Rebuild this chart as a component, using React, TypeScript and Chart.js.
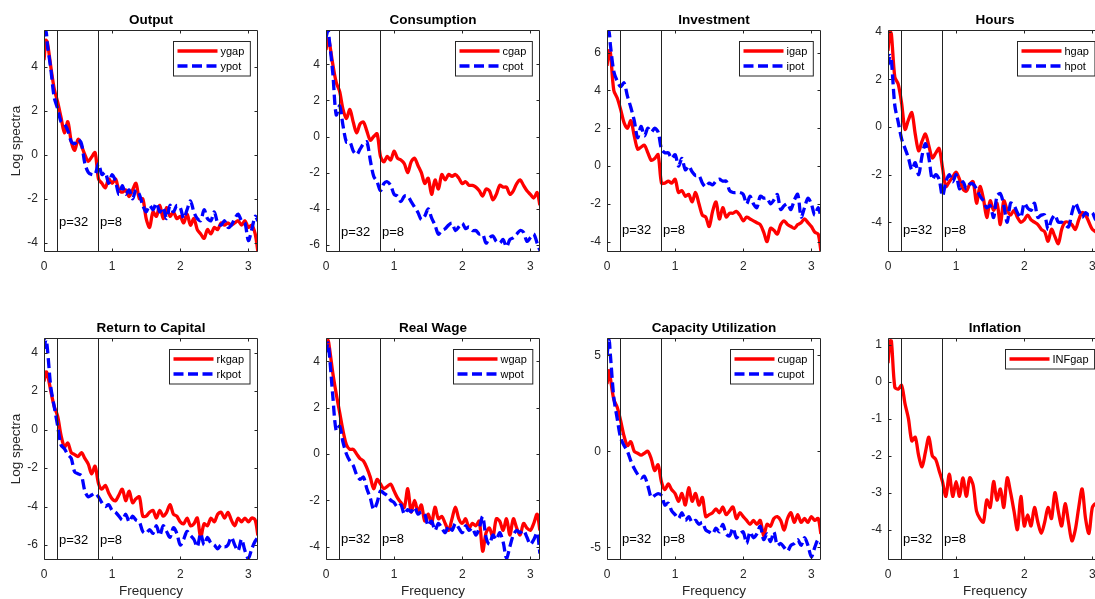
import React, { useEffect, useRef } from 'react';
import { Chart, registerables } from 'chart.js';
Chart.register(...registerables);

// ---------- data ----------
const freq = [
  0, 0.03, 0.05, 0.10, 0.15, 0.20, 0.25, 0.30, 0.35, 0.40, 0.45,
  0.50, 0.55, 0.60, 0.65, 0.70, 0.75, 0.80, 0.85, 0.90, 0.95,
  1.00, 1.05, 1.10, 1.15, 1.20, 1.25, 1.30, 1.35, 1.40, 1.45,
  1.50, 1.55, 1.60, 1.65, 1.70, 1.75, 1.80, 1.85, 1.90, 1.95,
  2.00, 2.05, 2.10, 2.15, 2.20, 2.25, 2.30, 2.35, 2.40, 2.45,
  2.50, 2.55, 2.60, 2.65, 2.70, 2.75, 2.80, 2.85, 2.90, 2.95,
  3.00, 3.05, 3.10, 3.14,
];

const ygap = [
  4.3, 5.2, 5.1, 4.0, 3.0, 2.4, 1.7, 1.0, 1.5, 0.6, 0.2,
  0.7, 0.4, 0.0, -0.3, -0.1, 0.1, -1.1, -1.3, -1.5, -1.1,
  -1.3, -1.1, -1.6, -1.7, -1.6, -1.9, -1.6, -1.3, -2.0, -2.0,
  -2.9, -3.3, -2.6, -2.8, -2.3, -2.9, -2.4, -2.8, -2.6, -2.9,
  -2.8, -3.1, -2.7, -3.2, -2.9, -3.4, -3.6, -3.8, -3.4, -3.6,
  -3.3, -3.4, -3.1, -3.2, -3.1, -3.2, -3.1, -3.0, -3.2, -3.0,
  -3.3, -3.2, -3.6, -4.4,
];
const ypot = [
  5.4, 5.6, 5.0, 3.9, 2.6, 2.1, 1.5, 1.4, 1.1, 0.6, 0.5,
  0.7, 0.5, -0.4, -0.8, -0.9, -0.9, -0.4, -0.9, -0.8, -1.3,
  -0.9, -1.2, -1.8, -1.4, -1.8, -1.6, -2.0, -1.6, -1.8, -2.3,
  -2.6, -2.3, -2.5, -2.2, -2.6, -2.4, -2.9, -2.3, -2.6, -2.3,
  -2.4, -2.9, -2.5, -2.1, -2.6, -2.9, -3.0, -2.5, -2.9, -3.0,
  -2.6, -3.1, -3.2, -3.0, -3.3, -3.2, -2.9, -2.7, -3.0, -3.1,
  -3.9, -3.4, -2.8, -3.0,
];
const cgap = [
  4.8, 5.4, 5.2, 4.0, 3.0, 2.5, 1.5, 1.0, 1.5, 0.8, 0.2,
  0.7, 0.8, 0.3, -0.2, 0.0, 0.15, -1.1, -1.4, -1.1, -1.3,
  -0.8, -1.2, -1.3, -1.5, -2.0, -1.4, -1.2, -1.6, -2.0, -2.6,
  -2.3, -3.2, -2.4, -2.9, -2.1, -2.4, -2.1, -2.2, -2.1, -2.3,
  -2.6, -2.5, -2.7, -2.7, -2.8, -3.0, -3.3, -2.9, -3.0, -3.5,
  -3.2, -2.7, -2.8, -2.8, -3.2, -3.0, -2.6, -2.4, -2.7, -3.0,
  -3.2, -3.4, -3.1, -3.8,
];
const cpot = [
  5.5, 5.9, 5.3, 3.5, 1.2, 1.7, 0.6, -0.3, -0.3, -0.8, -1.0,
  -0.7, -0.4, -0.3, -1.3, -2.2, -2.5, -3.0, -2.6, -2.5, -2.7,
  -3.2, -3.3, -3.6, -3.3, -3.3, -3.6, -3.9, -4.2, -4.6, -4.4,
  -4.0, -4.5, -4.9, -5.4, -5.2, -5.1, -4.9, -4.8, -5.2, -5.0,
  -4.8, -5.1, -5.0, -5.2, -5.2, -5.4, -5.4, -5.9, -5.6, -5.5,
  -5.8, -5.9, -5.7, -6.1, -5.7, -5.6, -5.4, -5.2, -5.3, -5.8,
  -5.6, -5.4, -5.9, -6.3,
];
const igap = [
  5.3, 6.1, 6.0, 4.0, 3.6, 3.0, 2.3, 2.0, 2.4, 1.6, 0.9,
  1.0, 1.1, 0.7, 0.3, 0.4, 0.6, -0.9, -0.9, -0.8, -0.9,
  -0.7, -1.4, -1.3, -1.6, -1.5, -1.9, -1.4, -2.0, -2.6, -2.7,
  -3.2, -2.4, -1.9, -2.8, -2.2, -2.7, -2.5, -2.5, -2.4, -2.6,
  -2.9, -2.7, -2.8, -2.9, -3.0, -3.1, -3.5, -4.0, -3.3, -3.4,
  -3.6, -3.1, -2.9, -3.1, -3.2, -3.3, -3.1, -3.0, -2.8, -3.0,
  -3.2, -3.5, -3.6, -4.5,
];
const ipot = [
  6.9, 7.1, 6.4, 5.0, 4.5, 4.2, 4.4, 3.7, 3.1, 2.4, 1.5,
  2.1, 1.6, 2.0, 1.8, 2.0, 1.8, 0.9, 0.7, 0.7, 0.4,
  0.6, 0.0, 0.4, -0.2, 0.0, -0.3, -0.5, -0.5, -0.9, -1.1,
  -0.9, -1.0, -0.8, -0.7, -0.8, -0.8, -1.3, -1.4, -1.4, -1.4,
  -1.5, -2.0, -1.6, -2.0, -2.2, -1.6, -1.7, -1.7, -2.0, -1.8,
  -1.5, -2.3, -2.1, -2.0, -2.3, -1.8, -1.5, -2.7, -2.2, -1.7,
  -2.0, -2.6, -2.2, -2.7,
];
const hgap = [
  3.2, 4.0, 3.9, 2.1, 1.8, 1.0, -0.1, 0.3, 0.6, -0.3, -1.0,
  -0.6, -0.3, -0.8, -1.3, -1.1, -0.9, -1.7, -2.5, -2.3, -2.1,
  -1.9, -2.2, -2.6, -2.7, -2.4, -2.3, -3.2, -2.5, -3.0, -3.8,
  -3.1, -3.5, -3.2, -4.1, -3.1, -3.5, -3.7, -3.5, -3.8, -4.0,
  -3.9, -3.7, -3.9, -4.0, -4.1, -4.3, -4.4, -4.8, -4.3, -4.6,
  -4.9, -4.3, -4.0, -4.0, -4.1, -4.3, -3.9, -3.6, -3.7, -4.0,
  -4.3, -4.4, -4.6, -5.2,
];
const hpot = [
  2.6, 3.0, 2.8, 0.9, 0.2, -0.5, -0.9, -1.3, -1.8, -1.5, -2.0,
  -1.2, -0.7, -1.3, -2.2, -2.0, -2.2, -2.9, -2.3, -2.0, -2.3,
  -2.0, -2.6, -2.3, -2.6, -2.4, -2.4, -2.6, -2.9, -3.1, -3.4,
  -3.3, -3.8, -2.9, -2.8, -3.3, -4.0, -3.2, -3.3, -3.6, -3.8,
  -3.2, -3.4, -3.5, -3.2, -3.8, -3.7, -3.7, -4.3, -3.9, -3.7,
  -4.0, -4.0, -4.1, -4.2, -3.6, -3.2, -3.5, -3.8, -3.6, -3.7,
  -3.6, -3.9, -3.7, -3.9,
];
const rkgap = [
  2.5, 3.0, 2.9, 2.0, 1.2, 0.7, -0.3, -0.9, -0.7, -1.2, -1.3,
  -1.4, -1.2, -1.5, -1.8, -2.3, -1.9, -2.8, -3.1, -2.9, -3.3,
  -3.6, -3.7, -3.4, -3.1, -3.7, -3.2, -3.8, -3.6, -3.5, -4.5,
  -4.5, -4.3, -4.2, -4.6, -4.2, -4.5, -4.3, -3.9, -4.4, -4.5,
  -4.8, -4.9, -4.6, -5.0, -4.9, -4.6, -5.6, -4.9, -5.0, -4.6,
  -4.8, -4.4, -4.3, -4.6, -4.3, -4.7, -5.0, -4.6, -4.8, -4.6,
  -4.8, -4.6, -4.7, -5.5,
];
const rkpot = [
  4.2, 4.7, 4.2, 2.2, 1.2, 0.2, -0.8, -1.0, -1.3, -1.5, -2.2,
  -2.3, -2.4, -3.2, -3.5, -3.4, -3.3, -3.5, -3.8, -4.0, -3.9,
  -4.2, -4.3, -4.5, -4.7, -4.4, -4.8, -4.5, -4.7, -4.8, -5.3,
  -5.4, -5.2, -5.4, -5.0, -5.5, -5.0, -5.3, -5.6, -5.1, -5.4,
  -6.0, -5.7, -5.3, -5.5, -5.7, -6.1, -5.4, -6.0, -5.6, -5.9,
  -6.0, -6.2, -6.0, -6.1, -6.0, -5.6, -6.0, -6.3, -5.7, -6.3,
  -6.7, -6.2, -5.8, -5.6,
];
const wgap = [
  4.5, 4.9, 4.6, 3.5, 2.6, 1.8, 1.0, 0.4, 0.2, 0.2, 0.0,
  -0.2, -0.3, -0.6, -1.0, -1.5, -1.1, -1.3, -1.5, -1.4, -1.3,
  -1.6, -1.9, -2.1, -2.3, -1.5, -2.5, -2.0, -2.5, -2.2, -2.9,
  -2.6, -3.0, -2.3, -2.8, -2.7, -3.0, -3.3, -2.8, -2.3, -2.8,
  -3.0, -2.8, -3.2, -3.0, -3.1, -2.9, -4.2, -3.4, -3.2, -3.6,
  -2.8, -2.9, -3.3, -2.8, -3.5, -2.8, -3.2, -3.5, -3.0, -3.2,
  -3.3, -3.0, -2.6, -3.3,
];
const wpot = [
  4.4, 4.8, 4.3, 2.5, 1.0, 1.2, 0.5, 0.0, -0.3, -0.5, -0.9,
  -1.1, -1.0, -1.5, -1.9, -2.4, -2.1, -1.6, -1.7, -1.8, -2.0,
  -2.1, -2.3, -2.2, -2.6, -2.4, -2.5, -2.3, -2.6, -2.5, -2.6,
  -3.1, -2.9, -3.3, -3.0, -3.2, -3.4, -3.1, -3.3, -3.0, -3.2,
  -3.4, -3.1, -3.3, -3.2, -3.5, -3.2, -2.7, -3.6, -3.9, -3.5,
  -3.7, -3.4, -3.8, -4.5, -4.0, -3.5, -3.3, -3.4, -3.3, -3.6,
  -3.9, -3.7, -3.4, -4.3,
];
const cugap = [
  3.5, 4.2, 3.8, 2.7, 2.3, 1.6, 0.8, 0.3, 0.5, 0.0, -0.1,
  -0.2, -0.1, 0.0, -0.4, -1.0, -0.7, -1.6, -2.0, -1.7, -2.0,
  -2.2, -2.6, -2.2, -2.8, -1.9, -2.6, -2.2, -2.8, -2.4, -3.4,
  -3.3, -3.2, -3.0, -3.2, -2.9, -3.3, -3.1, -2.9, -3.5, -3.2,
  -3.4, -3.6, -3.8, -3.6, -3.8, -3.6, -4.4, -3.8, -3.9, -3.5,
  -3.4, -3.6, -4.1, -3.5, -3.2, -3.7, -3.3, -3.7, -3.5, -3.7,
  -3.4, -3.6, -3.5, -4.3,
];
const cupot = [
  5.0, 5.8, 5.0, 2.8, 1.7, 0.7, 0.3, 0.0, -0.5, -0.9, -1.2,
  -1.4, -1.3, -1.8, -2.4, -2.3, -2.2, -2.3, -2.8, -2.7, -3.1,
  -3.3, -3.5, -3.2, -3.6, -3.4, -3.7, -3.6, -3.8, -3.7, -4.1,
  -4.2, -4.3, -4.0, -4.2, -3.8, -4.3, -4.4, -4.0, -4.5, -4.3,
  -4.2, -4.8, -4.2, -4.5, -4.3, -3.9, -4.6, -4.3, -4.7, -4.2,
  -4.9, -4.8, -5.0, -5.2, -4.9, -4.8, -4.6, -4.9, -4.5, -4.9,
  -5.5, -5.0, -4.6, -4.8,
];
const infgap = [
  0.5, 1.1, 1.1, -0.15, -0.2, -0.1, -0.6, -1.0, -1.6, -1.5, -2.0,
  -2.3, -1.9, -1.5, -2.0, -2.1, -2.4, -2.7, -3.1, -2.5, -3.1,
  -2.7, -3.1, -2.6, -3.1, -2.6, -2.8, -3.5, -3.7, -3.8, -3.2,
  -3.4, -2.7, -3.2, -2.9, -3.4, -2.6, -3.0, -3.5, -4.0, -3.1,
  -3.9, -3.6, -3.9, -3.4, -3.8, -4.1, -3.8, -3.4, -3.7, -3.0,
  -3.5, -3.9, -3.3, -3.8, -4.3, -4.0, -3.4, -2.9, -3.7, -4.1,
  -3.4, -3.3, -3.6, -3.5,
];

const xTicks = [0, 1, 2, 3];
const markerPeriods = [32, 8];
const markerLabels = ['p=32', 'p=8'];

// ---------- layout ----------
const FONT = '"Liberation Sans", Arial, Helvetica, sans-serif';
const AXC = '#262626';
const PLOT_W = 214;
const PLOT_H = 222;
const PAD_L = 46;
const PAD_T = 32;
const PAD_R = 12;
const PAD_B = 50;
const CW = PAD_L + PLOT_W + PAD_R;
const CH = PAD_T + PLOT_H + PAD_B;
const colLeft = [44, 326, 607, 888];
const rowTop = [30, 338];
const LINE_W = 3.3;

type Series = { label: string; data: number[]; color: string; dashed: boolean };
type PanelSpec = {
  title: string;
  col: number;
  row: number;
  ymin: number;
  ymax: number;
  yticks: number[];
  textY: number;
  series: Series[];
};

const RED = 'rgb(255,0,0)';
const BLUE = 'rgb(0,0,255)';

const panels: PanelSpec[] = [
  { title: 'Output', col: 0, row: 0, ymin: -4.42, ymax: 5.67, yticks: [-4, -2, 0, 2, 4], textY: -3.07,
    series: [{ label: 'ygap', data: ygap, color: RED, dashed: false }, { label: 'ypot', data: ypot, color: BLUE, dashed: true }] },
  { title: 'Consumption', col: 1, row: 0, ymin: -6.39, ymax: 5.9, yticks: [-6, -4, -2, 0, 2, 4], textY: -5.28,
    series: [{ label: 'cgap', data: cgap, color: RED, dashed: false }, { label: 'cpot', data: cpot, color: BLUE, dashed: true }] },
  { title: 'Investment', col: 2, row: 0, ymin: -4.55, ymax: 7.2, yticks: [-4, -2, 0, 2, 4, 6], textY: -3.43,
    series: [{ label: 'igap', data: igap, color: RED, dashed: false }, { label: 'ipot', data: ipot, color: BLUE, dashed: true }] },
  { title: 'Hours', col: 3, row: 0, ymin: -5.25, ymax: 4.07, yticks: [-4, -2, 0, 2, 4], textY: -4.33,
    series: [{ label: 'hgap', data: hgap, color: RED, dashed: false }, { label: 'hpot', data: hpot, color: BLUE, dashed: true }] },
  { title: 'Return to Capital', col: 0, row: 1, ymin: -6.78, ymax: 4.76, yticks: [-6, -4, -2, 0, 2, 4], textY: -5.75,
    series: [{ label: 'rkgap', data: rkgap, color: RED, dashed: false }, { label: 'rkpot', data: rkpot, color: BLUE, dashed: true }] },
  { title: 'Real Wage', col: 1, row: 1, ymin: -4.58, ymax: 5.01, yticks: [-4, -2, 0, 2, 4], textY: -3.68,
    series: [{ label: 'wgap', data: wgap, color: RED, dashed: false }, { label: 'wpot', data: wpot, color: BLUE, dashed: true }] },
  { title: 'Capacity Utilization', col: 2, row: 1, ymin: -5.66, ymax: 5.9, yticks: [-5, 0, 5], textY: -4.57,
    series: [{ label: 'cugap', data: cugap, color: RED, dashed: false }, { label: 'cupot', data: cupot, color: BLUE, dashed: true }] },
  { title: 'Inflation', col: 3, row: 1, ymin: -4.82, ymax: 1.18, yticks: [-4, -3, -2, -1, 0, 1], textY: -4.26,
    series: [{ label: 'INFgap', data: infgap, color: RED, dashed: false }] },
];

const DASH = [10, 4.5];

function makeDecor(p: PanelSpec) {
  return {
    id: 'matlabDecor',
    afterDatasetsDraw(chart: any) {
      const { ctx, chartArea: a, scales } = chart;
      const xs = scales.x;
      const ys = scales.y;
      ctx.save();
      // period marker lines
      ctx.strokeStyle = '#222';
      ctx.lineWidth = 1;
      markerPeriods.forEach((per, i) => {
        const v = (2 * Math.PI) / per;
        const px = Math.round(xs.getPixelForValue(v)) + 0.5;
        ctx.beginPath();
        ctx.moveTo(px, a.top);
        ctx.lineTo(px, a.bottom);
        ctx.stroke();
        ctx.fillStyle = '#000';
        ctx.font = `13px ${FONT}`;
        ctx.textAlign = 'left';
        ctx.textBaseline = 'middle';
        ctx.fillText(markerLabels[i], px + 1.5, ys.getPixelForValue(p.textY));
      });
      // frame
      ctx.strokeStyle = AXC;
      ctx.lineWidth = 1;
      const L = Math.round(a.left) + 0.5;
      const R = Math.round(a.right) - 0.5;
      const T = Math.round(a.top) + 0.5;
      const B = Math.round(a.bottom) - 0.5;
      ctx.beginPath();
      ctx.rect(L, T, R - L, B - T);
      ctx.stroke();
      // inward ticks
      const tl = 3;
      ctx.beginPath();
      xTicks.forEach((v) => {
        const px = Math.round(xs.getPixelForValue(v)) + 0.5;
        ctx.moveTo(px, B); ctx.lineTo(px, B - tl);
        ctx.moveTo(px, T); ctx.lineTo(px, T + tl);
      });
      p.yticks.forEach((v) => {
        const py = Math.round(ys.getPixelForValue(v)) + 0.5;
        ctx.moveTo(L, py); ctx.lineTo(L + tl, py);
        ctx.moveTo(R, py); ctx.lineTo(R - tl, py);
      });
      ctx.stroke();
      ctx.restore();
    },
    afterDraw(chart: any) {
      const { ctx, chartArea: a } = chart;
      ctx.save();
      // title
      ctx.fillStyle = '#000';
      ctx.font = `bold 13.5px ${FONT}`;
      ctx.textAlign = 'center';
      ctx.textBaseline = 'alphabetic';
      ctx.fillText(p.title, (a.left + a.right) / 2, a.top - 6.5);
      // axis labels
      ctx.fillStyle = AXC;
      ctx.font = `13.5px ${FONT}`;
      if (p.col === 0) {
        ctx.save();
        ctx.translate(a.left - 28, (a.top + a.bottom) / 2);
        ctx.rotate(-Math.PI / 2);
        ctx.textAlign = 'center';
        ctx.textBaseline = 'middle';
        ctx.fillText('Log spectra', 0, 0);
        ctx.restore();
      }
      if (p.row === 1) {
        ctx.textAlign = 'center';
        ctx.textBaseline = 'alphabetic';
        ctx.fillText('Frequency', (a.left + a.right) / 2, a.bottom + 35);
      }
      // legend
      ctx.font = `11px ${FONT}`;
      const tw = Math.max(...p.series.map((s) => ctx.measureText(s.label).width));
      const bw = 48 + tw + 5;
      const bh = 4.5 + 15 * p.series.length;
      const bx = Math.round(a.right - 8 - bw) + 0.5;
      const by = Math.round(a.top + 10.5) + 0.5;
      ctx.fillStyle = '#fff';
      ctx.fillRect(bx, by, bw, bh);
      ctx.strokeStyle = AXC;
      ctx.lineWidth = 1;
      ctx.strokeRect(bx, by, bw, bh);
      p.series.forEach((s, i) => {
        const cy = by + 9.5 + 15 * i;
        ctx.strokeStyle = s.color;
        ctx.lineWidth = LINE_W;
        ctx.lineCap = 'butt';
        ctx.setLineDash(s.dashed ? DASH : []);
        ctx.beginPath();
        ctx.moveTo(bx + 4, cy);
        ctx.lineTo(bx + 44, cy);
        ctx.stroke();
        ctx.setLineDash([]);
        ctx.fillStyle = '#000';
        ctx.textAlign = 'left';
        ctx.textBaseline = 'middle';
        ctx.fillText(s.label, bx + 47, cy + 0.5);
      });
      ctx.restore();
    },
  };
}

function Panel({ spec }: { spec: PanelSpec }) {
  const ref = useRef<HTMLCanvasElement | null>(null);
  useEffect(() => {
    const canvas = ref.current;
    if (!canvas) return;
    const datasets = spec.series.map((s, i) => ({
      label: s.label,
      data: freq.map((f, k) => ({ x: f, y: s.data[k] })),
      borderColor: s.color,
      backgroundColor: s.color,
      borderWidth: LINE_W,
      borderDash: s.dashed ? DASH : [],
      borderCapStyle: 'butt' as const,
      borderJoinStyle: 'round' as const,
      pointRadius: 0,
      tension: 0.3,
      fill: false,
      order: spec.series.length - i,
    }));
    const chart = new Chart(canvas, {
      type: 'line',
      data: { datasets },
      options: {
        animation: false,
        responsive: false,
        devicePixelRatio: 1,
        events: [],
        layout: { padding: { left: 0, top: PAD_T, right: PAD_R, bottom: 0 }, autoPadding: false },
        plugins: { legend: { display: false }, tooltip: { enabled: false }, title: { display: false } },
        scales: {
          x: {
            type: 'linear',
            min: 0,
            max: Math.PI,
            grid: { display: false, drawTicks: false },
            border: { display: false },
            afterBuildTicks: (s: any) => { s.ticks = xTicks.map((v) => ({ value: v })); },
            afterFit: (s: any) => { s.height = PAD_B; },
            ticks: {
              autoSkip: false,
              maxRotation: 0,
              padding: 7,
              color: AXC,
              font: { family: FONT, size: 12 },
              callback: (v: any) => String(v),
            },
          },
          y: {
            type: 'linear',
            min: spec.ymin,
            max: spec.ymax,
            grid: { display: false, drawTicks: false },
            border: { display: false },
            afterBuildTicks: (s: any) => { s.ticks = spec.yticks.map((v) => ({ value: v })); },
            afterFit: (s: any) => { s.width = PAD_L; },
            ticks: {
              autoSkip: false,
              padding: 6,
              color: AXC,
              font: { family: FONT, size: 12 },
              callback: (v: any) => String(v),
            },
          },
        },
      } as any,
      plugins: [makeDecor(spec)],
    });
    return () => chart.destroy();
  }, [spec]);
  const left = colLeft[spec.col] - PAD_L;
  const top = rowTop[spec.row] - PAD_T;
  return (
    <canvas
      ref={ref}
      width={CW}
      height={CH}
      style={{ position: 'absolute', left, top, width: CW, height: CH }}
    />
  );
}

export default function App() {
  useEffect(() => {
    document.body.style.margin = '0';
    document.body.style.overflow = 'hidden';
  }, []);
  return (
    <div
      style={{
        position: 'fixed',
        left: 0,
        top: 0,
        width: 1095,
        height: 599,
        overflow: 'hidden',
        background: '#fff',
      }}
    >
      {panels.map((p) => (
        <Panel key={p.title} spec={p} />
      ))}
    </div>
  );
}
